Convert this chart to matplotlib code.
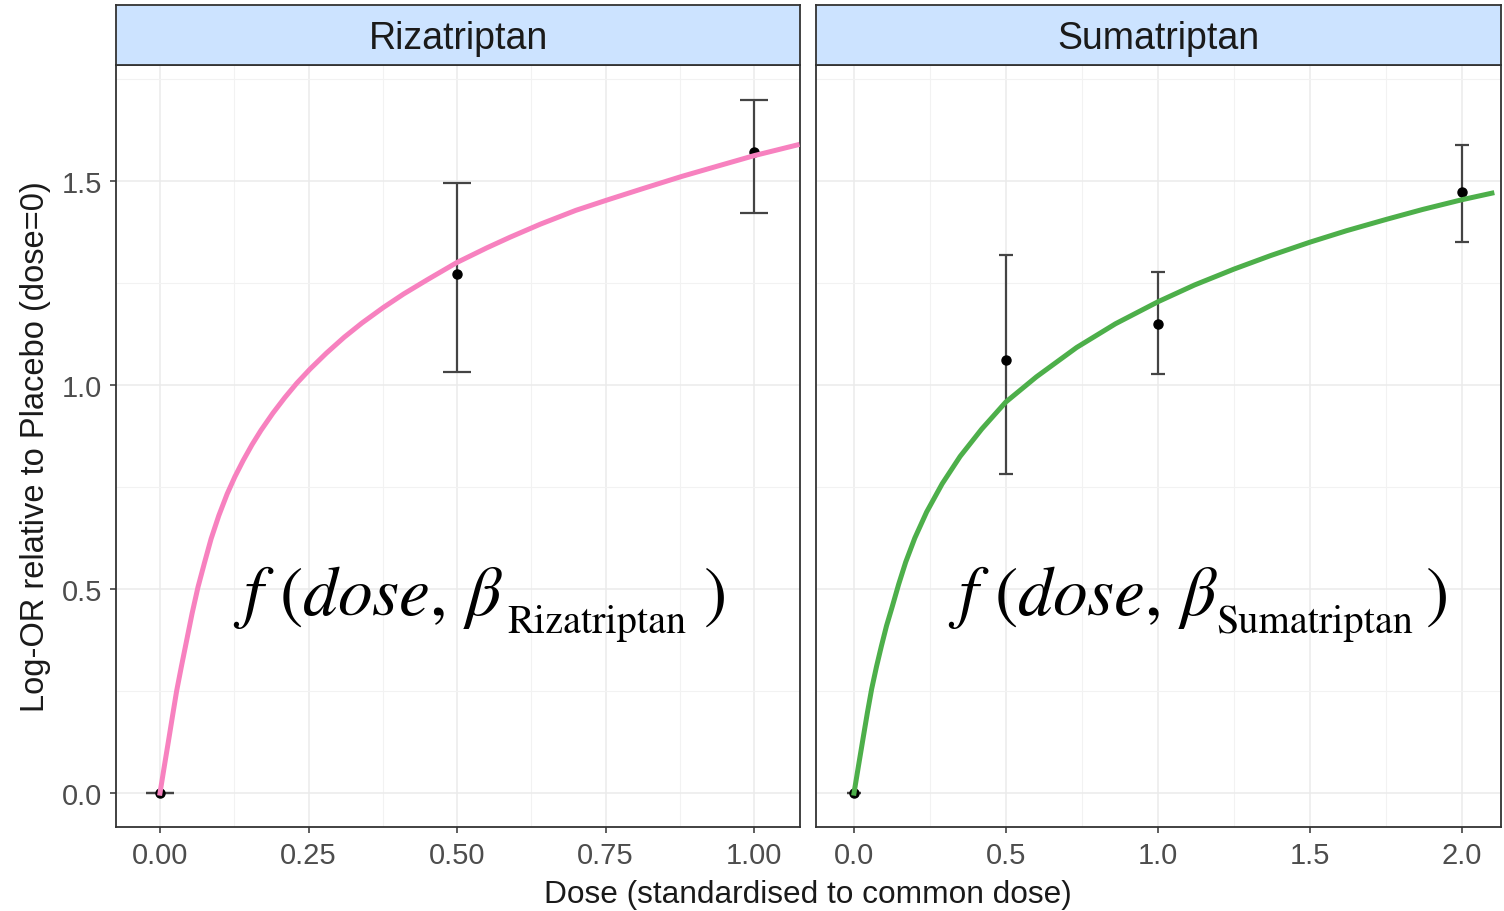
import matplotlib
matplotlib.use("Agg")
import matplotlib.pyplot as plt
from matplotlib.ticker import MultipleLocator, FormatStrFormatter

# observed log-OR per dose (with 95% interval), by drug
riza_dose = [0.0, 0.5, 1.0]
riza_logor = [0.0, 1.272, 1.570]
riza_lower = [0.0, 1.033, 1.421]
riza_upper = [0.0, 1.495, 1.699]

suma_dose = [0.0, 0.5, 1.0, 2.0]
suma_logor = [0.0, 1.060, 1.150, 1.472]
suma_lower = [0.0, 0.782, 1.028, 1.350]
suma_upper = [0.0, 1.319, 1.277, 1.589]

# fitted dose-response curves
riza_curve_x = [0.0, 0.007, 0.014, 0.021, 0.028, 0.036, 0.045, 0.054, 0.064,
                0.075, 0.086, 0.099, 0.113, 0.126, 0.14, 0.155, 0.17, 0.19,
                0.21, 0.23, 0.2525, 0.28, 0.31, 0.34, 0.376, 0.41, 0.45,
                0.4995, 0.55, 0.589, 0.64, 0.70, 0.752, 0.81, 0.878, 0.94,
                1.0, 1.072]
riza_curve_y = [0.0, 0.063, 0.125, 0.188, 0.25, 0.31, 0.375, 0.44, 0.505,
                0.565, 0.623, 0.68, 0.733, 0.775, 0.815, 0.854, 0.889, 0.931,
                0.969, 1.004, 1.039, 1.078, 1.117, 1.152, 1.19, 1.223, 1.258,
                1.3, 1.336, 1.362, 1.394, 1.428, 1.453, 1.48, 1.511, 1.537,
                1.562, 1.588]

suma_curve_x = [0.0, 0.015, 0.03, 0.044, 0.058, 0.074, 0.09, 0.107, 0.125,
                0.147, 0.17, 0.2, 0.239, 0.29, 0.349, 0.42, 0.499, 0.6,
                0.7325, 0.86, 1.0, 1.12, 1.25, 1.37, 1.5, 1.62, 1.752, 1.87,
                2.0, 2.098]
suma_curve_y = [0.0, 0.068, 0.135, 0.197, 0.255, 0.31, 0.36, 0.41, 0.455,
                0.512, 0.566, 0.625, 0.689, 0.758, 0.825, 0.892, 0.958, 1.02,
                1.092, 1.15, 1.204, 1.245, 1.284, 1.317, 1.35, 1.378, 1.406,
                1.43, 1.454, 1.47]

drugs = ["Rizatriptan", "Sumatriptan"]
colours = ["#F781BF", "#4DAF4A"]

plt.rcParams["font.family"] = ["Liberation Sans", "DejaVu Sans"]
plt.rcParams["mathtext.fontset"] = "stix"

fig = plt.figure(figsize=(15.04, 9.12), dpi=100)

W, H = 1504.0, 912.0
panels = [(116, 800), (816, 1501)]
top, bottom, strip_top = 66, 828, 6

panel_data = [
    (riza_dose, riza_logor, riza_lower, riza_upper, riza_curve_x, riza_curve_y,
     (-0.074, 1.077), 0.25, "%.2f", 10.4),
    (suma_dose, suma_logor, suma_lower, suma_upper, suma_curve_x, suma_curve_y,
     (-0.125, 2.128), 0.5, "%.1f", 5.2),
]

# pixel positions of the model label pieces: main, subscript, closing paren
label_pos = [(233, 507, 703), (948, 1216, 1425)]

for i, (x0, x1) in enumerate(panels):
    dose, logor, lo, hi, cx, cy, xlim, step, fmt, cap = panel_data[i]
    ax = fig.add_axes([x0 / W, 1 - bottom / H, (x1 - x0) / W, (bottom - top) / H])
    ax.set_xlim(*xlim)
    ax.set_ylim(-0.083, 1.784)

    ax.xaxis.set_major_locator(MultipleLocator(step))
    ax.xaxis.set_minor_locator(MultipleLocator(step / 2))
    ax.xaxis.set_major_formatter(FormatStrFormatter(fmt))
    ax.yaxis.set_major_locator(MultipleLocator(0.5))
    ax.yaxis.set_minor_locator(MultipleLocator(0.25))
    ax.yaxis.set_major_formatter(FormatStrFormatter("%.1f"))

    ax.grid(which="major", color="#EBEBEB", lw=1.1)
    ax.grid(which="minor", color="#F2F2F2", lw=0.8)
    ax.set_axisbelow(True)
    for s in ax.spines.values():
        s.set_color("#333333")
        s.set_linewidth(1.3)

    ax.tick_params(which="major", length=4, width=1.1, color="#333333",
                   labelsize=21, labelcolor="#4D4D4D", pad=6)
    ax.tick_params(which="minor", length=0)
    if i == 1:
        ax.tick_params(axis="y", which="both", left=False, labelleft=False)
    else:
        ax.set_ylabel("Log-OR relative to Placebo (dose=0)", fontsize=23.5,
                      color="#1A1A1A", labelpad=8)

    ax.plot(cx, cy, color=colours[i], lw=3.6, zorder=3)
    yerr = [[v - l for v, l in zip(logor, lo)], [u - v for v, u in zip(logor, hi)]]
    ax.errorbar(dose, logor, yerr=yerr, fmt="o", color="black", ms=6.5,
                ecolor="#444444", elinewidth=1.6, capsize=cap, capthick=1.6,
                zorder=2)

    # model label f(dose, beta_drug)
    px_main, px_sub, px_close = label_pos[i]
    fig.text(px_main / W, 1 - 615 / H, r"$f\ (dose,\,\beta$", fontsize=50,
             va="baseline", ha="left", color="black")
    fig.text(px_sub / W, 1 - 633 / H, drugs[i], family="STIXGeneral",
             fontsize=29, va="baseline", ha="left", color="black")
    fig.text(px_close / W, 1 - 615 / H, r"$)$", fontsize=50,
             va="baseline", ha="left", color="black")

    # facet strip
    sx = fig.add_axes([x0 / W, 1 - top / H, (x1 - x0) / W, (top - strip_top) / H])
    sx.set_facecolor("#CCE3FF")
    sx.set_xticks([])
    sx.set_yticks([])
    for s in sx.spines.values():
        s.set_color("#333333")
        s.set_linewidth(1.3)
    sx.text(0.5, 0.45, drugs[i], transform=sx.transAxes, ha="center",
            va="center", fontsize=27, color="#1A1A1A")

fig.text(808 / W, 1 - 895 / H, "Dose (standardised to common dose)",
         ha="center", va="center", fontsize=22.8, color="#1A1A1A")

fig.savefig("out.png", dpi=100)
